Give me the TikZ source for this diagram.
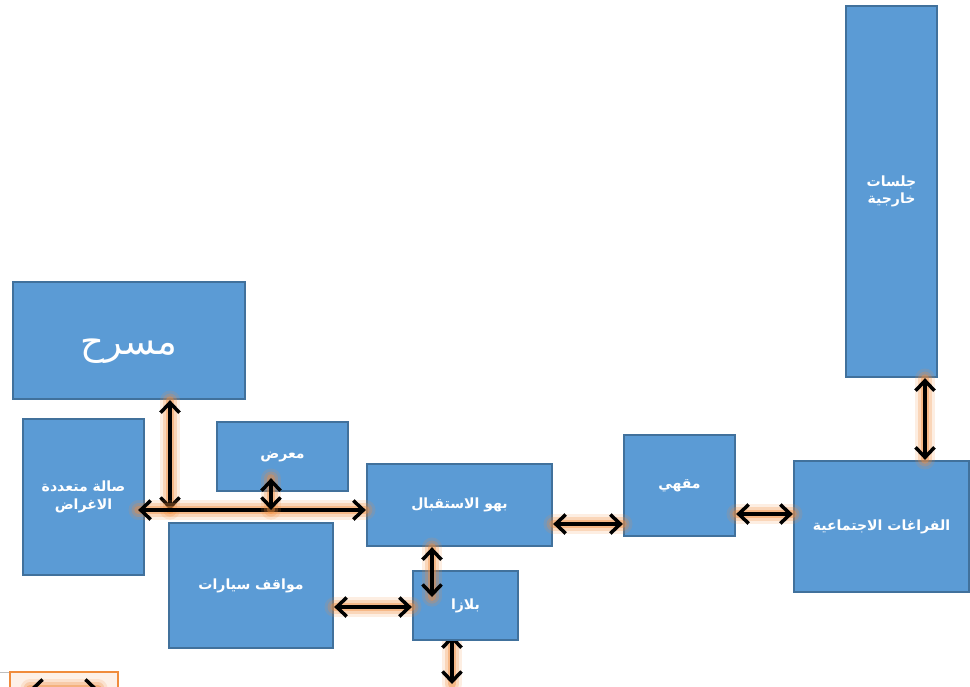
\documentclass[tikz,border=0pt]{standalone}
\usepackage{fontspec}
\usetikzlibrary{arrows.meta,backgrounds}
\TeXXeTstate=1
\newfontfamily\arabicfont[Script=Arabic]{DejaVu Sans}
\definecolor{roomF}{RGB}{91,155,213}
\definecolor{roomD}{RGB}{65,113,156}
\definecolor{glowO}{RGB}{240,140,60}
\tikzset{
  room/.style={draw=roomD,fill=roomF,line width=1.3pt,text=white,align=center,inner sep=0pt,
    font=\arabicfont\bfseries\fontsize{8}{10}\selectfont},
  link/.style={<->,line width=2pt,
    preaction={draw=glowO,-,line cap=round,line width=11pt,opacity=.15},
    preaction={draw=glowO,-,line cap=round,line width=7.5pt,opacity=.25},
    preaction={draw=glowO,-,line cap=round,line width=4.5pt,opacity=.4}},
}

\begin{document}
\begin{tikzpicture}[x=0.2mm,y=-0.2mm,>={Straight Barb[length=2mm,width=3.8mm]}]
\useasboundingbox (0,0) rectangle (970,686);
% rooms
\node[room,minimum width=46.4mm,minimum height=23.4mm,text height=20pt,text depth=4pt,font=\arabicfont\fontsize{21}{24}\selectfont] (stage) at (129,340.5) {\beginR مسرح\endR};
\node[room,minimum width=24.2mm,minimum height=31.2mm] (multi) at (83.5,497) {\beginR صالة  متعددة\endR\\\beginR الاغراض\endR};
\node[room,minimum width=26.2mm,minimum height=13.8mm] (gallery) at (282.5,456.5) {\beginR معرض\endR};
\node[room,minimum width=37mm,minimum height=16.4mm] (lobby) at (459.5,505) {\beginR بهو الاستقبال\endR};
\node[room,minimum width=32.8mm,minimum height=25mm] (parking) at (251,585.5) {\beginR مواقف سيارات\endR};
\node[room,minimum width=21mm,minimum height=13.8mm] (plaza) at (465.5,605.5) {\beginR بلازا\endR};
\node[room,minimum width=22.2mm,minimum height=20.2mm] (cafe) at (679.5,485.5) {\beginR مقهي\endR};
\node[room,minimum width=35mm,minimum height=26.2mm] (social) at (881.5,526.5) {\beginR الفراغات الاجتماعية\endR};
\node[room,minimum width=18.2mm,minimum height=74.2mm] (outdoor) at (891.5,191.5) {\beginR جلسات\endR\\\beginR خارجية\endR};
% bits cut off at the lower edge
\draw[gray!50] (0,672) -- (10,672);
\draw[glowO,fill=glowO!12,line width=1pt] (10,672) rectangle (118,700);
\coordinate (keyL) at (30,689);
\coordinate (keyR) at (98,689);
\draw[link] (keyL) -- (keyR);
% junctions
\coordinate (hub) at (170,510);
\coordinate (gal) at (271,510);
\coordinate (lc) at (590,524);
\coordinate (cs) at (765,514);
\coordinate (os) at (925,420);
\coordinate (lp) at (432,597);
\coordinate (pp) at (370,607);
\coordinate (pd) at (452,684);
% connectors
\draw[link] (stage.south -| hub) -- (hub);
\draw[link,shorten <=-1.4mm] (multi.east |- hub) -- (lobby.west |- hub);
\draw[link,shorten <=-2.8mm] (gallery.south -| gal) -- (gal);
\draw[link] (lobby.east |- lc) -- (cafe.west |- lc);
\draw[link] (cafe.east |- cs) -- (social.west |- cs);
\draw[link] (outdoor.south -| os) -- (social.north -| os);
\draw[link] (lobby.south -| lp) -- (lp);
\draw[link] (parking.east |- pp) -- (plaza.west |- pp);
\begin{scope}[on background layer]
\draw[link,shorten <=-1.2mm] (plaza.south -| pd) -- (pd);
\end{scope}
\end{tikzpicture}
\end{document}
